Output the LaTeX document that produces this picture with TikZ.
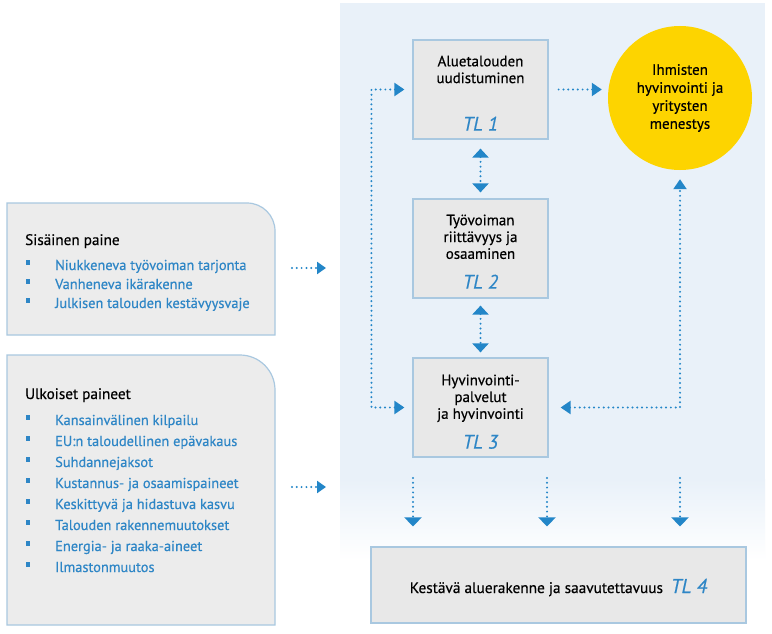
\documentclass[tikz,border=0pt]{standalone}
\usepackage{fontspec}
\setmainfont{PT Sans}[FakeBold=0.45]
\usetikzlibrary{arrows.meta}
\definecolor{panel}{HTML}{E9F1F9}
\definecolor{boxfill}{HTML}{E8E8E8}
\definecolor{boxline}{HTML}{A9C8E0}
\definecolor{leftfill}{HTML}{ECECEC}
\definecolor{arrowblue}{HTML}{2386C8}
\definecolor{textblue}{HTML}{2E86C6}
\definecolor{sun}{HTML}{FDD400}
\begin{document}
\begin{tikzpicture}[x=1pt,y=-1pt,
  flow/.style={arrowblue, line width=2.2pt, line cap=round, dash pattern=on 0pt off 4.8pt},
  tipR/.style={-{Triangle[width=13pt,length=10pt]}},
  tipB/.style={{Triangle[width=13pt,length=10pt]}-{Triangle[width=13pt,length=10pt]}},
  tipV/.style={{Triangle[width=16pt,length=9pt]}-{Triangle[width=16pt,length=9pt]}},
  tipD/.style={-{Triangle[width=17pt,length=9pt]}},
  tipS/.style={-{Triangle[width=12pt,length=9pt]}},
  tlbox/.style={draw=boxline, fill=boxfill, line width=1.2pt, minimum width=135pt, minimum height=99pt, inner sep=0pt},
  boxtitle/.style={font=\fontsize{15}{16.8}\selectfont, align=center, inner sep=0pt},
  tllabel/.style={font=\fontsize{19.5}{22}\selectfont\itshape, text=textblue, inner sep=0pt},
  leftbox/.style={draw=boxline, fill=leftfill, line width=1.2pt},
  ltitle/.style={font=\fontsize{15.2}{17}\selectfont, anchor=base west, inner sep=0pt},
  item/.style={font=\fontsize{14.4}{16}\selectfont, text=textblue, anchor=base west, inner sep=0pt},
  bullet/.style={fill=textblue, minimum width=3.5pt, minimum height=4.5pt, inner sep=0pt}
]
\useasboundingbox (0,0) rectangle (772,634);
\fill[white] (0,0) rectangle (772,634);
% background panel
\fill[panel] (340,3) rectangle (765,480);
\shade[top color=panel, bottom color=white] (340,479) rectangle (765,560);

% left boxes
\draw[leftbox] (7,335) -- (7,203) -- (247,203) .. controls (262.5,203) and (275,215.5) .. (275,231) -- (275,335) -- cycle;
\draw[leftbox] (7,625) -- (7,355) -- (240,355) .. controls (259.3,355) and (275,370.7) .. (275,390) -- (275,625) -- cycle;

\node[ltitle] (st) at (25,245) {Sisäinen paine};
\foreach \t/\b [count=\i] in {Niukkeneva työvoiman tarjonta/270, Vanheneva ikärakenne/289, Julkisen talouden kestävyysvaje/308}{
  \node[item] (s\i) at (55,\b) {\t};
  \node[bullet] (sb\i) at (27.75,\b-7.5) {};
}
\node[ltitle] (ut) at (25,399) {Ulkoiset paineet};
\foreach \t/\b [count=\i] in {Kansainvälinen kilpailu/425, EU:n taloudellinen epävakaus/446, Suhdannejaksot/467, Kustannus- ja osaamispaineet/488, Keskittyvä ja hidastuva kasvu/509, Talouden rakennemuutokset/530, Energia- ja raaka-aineet/551, Ilmastonmuutos/572}{
  \node[item] (u\i) at (55,\b) {\t};
  \node[bullet] (ub\i) at (27.75,\b-7.5) {};
}
\coordinate (a1s) at (292,268);
\coordinate (a1e) at (326,268);
\coordinate (a2s) at (292,487);
\coordinate (a2e) at (326,487);
\draw[flow, tipS] (a1s) -- (a1e);
\draw[flow, tipS] (a2s) -- (a2e);

% TL boxes
\node[tlbox] (TL1) at (480.5,89.5) {};
\node[tlbox] (TL2) at (480.5,248.5) {};
\node[tlbox] (TL3) at (480.5,407.5) {};
\node[tlbox, minimum width=375pt, minimum height=76pt] (TL4) at (558.5,585) {};

\node[boxtitle, anchor=north] (t1) at ([yshift=-16pt]TL1.north) {Aluetalouden\\uudistuminen};
\node[tllabel, anchor=base] (l1) at ([yshift=9pt]TL1.south) {TL 1};
\node[boxtitle, anchor=north] (t2) at ([yshift=-16pt]TL2.north) {Työvoiman\\riittävyys ja\\osaaminen};
\node[tllabel, anchor=base] (l2) at ([yshift=10pt]TL2.south) {TL 2};
\node[boxtitle, anchor=north] (t3) at ([yshift=-17pt]TL3.north) {Hyvinvointi-\\palvelut\\ja hyvinvointi};
\node[tllabel, anchor=base] (l3) at ([yshift=9pt]TL3.south) {TL 3};
\node[inner sep=0pt, anchor=base] (t4) at ([yshift=-8pt]TL4.center) {\fontsize{15.3}{16}\selectfont Kestävä aluerakenne ja saavutettavuus\hspace{8pt}{\fontsize{20}{22}\selectfont\itshape\color{textblue}TL 4}};

% goal circle
\node[circle, fill=sun, minimum size=144pt, inner sep=0pt, align=center, font=\fontsize{15}{18}\selectfont] (goal) at (680,98) {Ihmisten\\hyvinvointi ja\\yritysten\\menestys};

% connectors
\draw[flow, tipR] ([xshift=10pt]TL1.east) -- ([xshift=-6pt]TL1.east -| goal.west);
\draw[flow, tipV] ([yshift=-9pt]TL1.south) -- ([yshift=6pt]TL2.north);
\draw[flow, tipV] ([yshift=-7pt]TL2.south) -- ([yshift=5pt]TL3.north);
\draw[flow, tipB] ([xshift=-8pt]TL1.west) -- ([xshift=-41pt]TL1.west) -- ([xshift=-41pt]TL3.west) -- ([xshift=-8pt]TL3.west);
\draw[flow, tipB] ([xshift=12pt]TL3.east) -| ([yshift=-9pt]goal.south);

\coordinate (d1) at (413,478);
\coordinate (d2) at (547,478);
\coordinate (d3) at (680,478);
\foreach \d in {d1,d2,d3}{
  \draw[flow, tipD] (\d) -- ([yshift=20pt]\d |- TL4.north);
}
\end{tikzpicture}
\end{document}
